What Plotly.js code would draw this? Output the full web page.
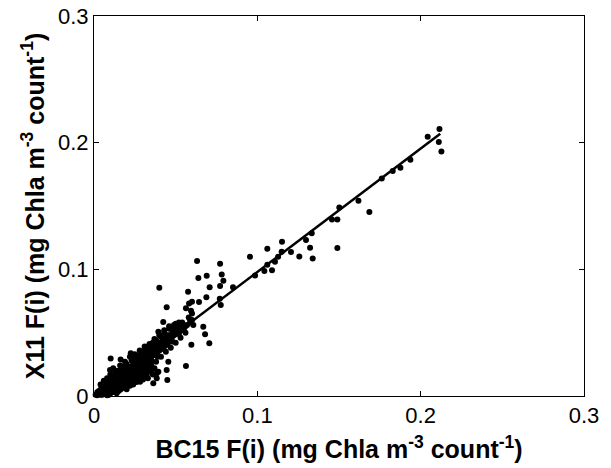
<!DOCTYPE html>
<html>
<head>
<meta charset="utf-8">
<script src="https://cdn.plot.ly/plotly-3.0.1.min.js"></script>
<style>
  html, body { margin: 0; padding: 0; background: #fff; }
  #chart { width: 611px; height: 468px; }
</style>
</head>
<body>
<div id="chart"></div>
<script>
// BC15 vs X11 per-count calibration factors F(i)
const bc15F = [
  // dense cluster near the origin
  0.001, 0.002, 0.002, 0.003, 0.003, 0.004, 0.004, 0.005, 0.005, 0.005,
  0.006, 0.006, 0.006, 0.007, 0.007, 0.007, 0.008, 0.008, 0.008, 0.009,
  0.009, 0.009, 0.010, 0.010, 0.010, 0.011, 0.011, 0.011, 0.012, 0.012,
  0.012, 0.013, 0.013, 0.013, 0.014, 0.014, 0.014, 0.015, 0.015, 0.015,
  0.016, 0.016, 0.016, 0.017, 0.017, 0.017, 0.018, 0.018, 0.018, 0.019,
  0.019, 0.019, 0.020, 0.020, 0.020, 0.021, 0.021, 0.021, 0.022, 0.022,
  0.022, 0.023, 0.023, 0.023, 0.024, 0.024, 0.024, 0.025, 0.025, 0.025,
  0.026, 0.026, 0.026, 0.027, 0.027, 0.027, 0.028, 0.028, 0.028, 0.029,
  0.029, 0.029, 0.030, 0.030, 0.030, 0.031, 0.031, 0.031, 0.032, 0.032,
  0.032, 0.033, 0.033, 0.033, 0.034, 0.034, 0.034, 0.035, 0.035, 0.035,
  0.036, 0.036, 0.036, 0.037, 0.037, 0.038, 0.038, 0.038, 0.039, 0.039,
  0.040, 0.040, 0.040, 0.041, 0.041, 0.042, 0.042, 0.042, 0.043, 0.043,
  0.044, 0.044, 0.045, 0.045, 0.046, 0.046, 0.047, 0.047, 0.048, 0.048,
  0.049, 0.049, 0.050, 0.050, 0.051, 0.051, 0.052, 0.052, 0.053, 0.053,
  0.054, 0.055, 0.055, 0.056, 0.057,
  // lower shoulder of the cluster
  0.025, 0.027, 0.029, 0.030, 0.032, 0.033, 0.035, 0.036, 0.037, 0.034,
  0.031, 0.028, 0.026, 0.024, 0.022, 0.020, 0.018, 0.016, 0.015, 0.013,
  0.011,
  0.008, 0.010, 0.014, 0.017, 0.019, 0.023, 0.026, 0.029, 0.032, 0.035,
  0.038, 0.041, 0.044, 0.047, 0.050, 0.053, 0.056,
  // upper shoulder of the cluster
  0.012, 0.015, 0.018, 0.020, 0.023, 0.026, 0.029, 0.031, 0.033, 0.036,
  0.038, 0.041, 0.043, 0.046, 0.049, 0.052, 0.054, 0.059, 0.060, 0.058,
  0.004, 0.006, 0.008, 0.010, 0.013, 0.016, 0.019, 0.022, 0.025, 0.028,
  0.031, 0.034, 0.037, 0.040, 0.043, 0.046, 0.050,
  // filling inside the cluster
  0.038, 0.042, 0.045, 0.048, 0.051, 0.044, 0.048, 0.052, 0.055, 0.039,
  0.035, 0.020, 0.017, 0.014, 0.024, 0.027,
  // scattered points around the cluster
  0.0394, 0.0225, 0.0102, 0.0163, 0.0449, 0.0394, 0.0384, 0.0343, 0.0363, 0.0282,
  0.0323, 0.0261, 0.0118, 0.0098, 0.0200, 0.0139, 0.0088,
  0.0631, 0.0772, 0.0639, 0.0690, 0.0782, 0.0792, 0.0708, 0.0772, 0.0851, 0.0400,
  0.0576, 0.0688, 0.0643, 0.0770, 0.0776, 0.0600, 0.0582, 0.0563, 0.0594, 0.0600,
  0.0445, 0.0424, 0.0669, 0.0680, 0.0706, 0.0596, 0.0608, 0.0563, 0.0455, 0.0445,
  0.0384, 0.0588,
  // higher values along the fit
  0.0955, 0.0986, 0.1043, 0.1090, 0.1061, 0.1108, 0.1061, 0.1127, 0.1149, 0.1151,
  0.1206, 0.1257, 0.1339, 0.1323, 0.1298, 0.1333, 0.1490, 0.1490, 0.1457, 0.1502,
  0.1686, 0.1619, 0.1762, 0.1829, 0.1876, 0.1937, 0.2127, 0.2111, 0.2043, 0.2115
];

const x11F = [
  0.001, 0.0005, 0.003, 0.002, 0.004, 0.001, 0.005, 0.003, 0.006, 0.001,
  0.004, 0.007, 0.002, 0.005, 0.008, 0.003, 0.006, 0.009, 0.002, 0.007,
  0.010, 0.004, 0.008, 0.011, 0.005, 0.009, 0.013, 0.006, 0.010, 0.014,
  0.004, 0.011, 0.008, 0.015, 0.012, 0.009, 0.016, 0.013, 0.010, 0.006,
  0.015, 0.012, 0.018, 0.014, 0.011, 0.008, 0.016, 0.013, 0.019, 0.017,
  0.014, 0.010, 0.018, 0.021, 0.015, 0.019, 0.016, 0.012, 0.020, 0.023,
  0.017, 0.021, 0.018, 0.014, 0.023, 0.020, 0.026, 0.024, 0.021, 0.016,
  0.025, 0.022, 0.028, 0.026, 0.023, 0.019, 0.027, 0.024, 0.030, 0.028,
  0.025, 0.021, 0.029, 0.026, 0.032, 0.030, 0.027, 0.023, 0.031, 0.028,
  0.034, 0.032, 0.029, 0.025, 0.033, 0.030, 0.036, 0.034, 0.031, 0.027,
  0.035, 0.032, 0.038, 0.036, 0.033, 0.037, 0.034, 0.040, 0.038, 0.035,
  0.039, 0.036, 0.042, 0.040, 0.037, 0.041, 0.038, 0.044, 0.042, 0.039,
  0.043, 0.046, 0.044, 0.041, 0.045, 0.048, 0.046, 0.043, 0.047, 0.050,
  0.048, 0.051, 0.049, 0.052, 0.050, 0.053, 0.051, 0.054, 0.052, 0.055,
  0.053, 0.054, 0.056, 0.055, 0.056,
  0.014, 0.012, 0.016, 0.013, 0.018, 0.014, 0.020, 0.017, 0.022, 0.022,
  0.020, 0.018, 0.011, 0.009, 0.008, 0.009, 0.007, 0.005, 0.004, 0.003,
  0.003,
  0.0005, 0.002, 0.004, 0.006, 0.008, 0.011, 0.014, 0.018, 0.021, 0.024,
  0.027, 0.031, 0.035, 0.038, 0.042, 0.046, 0.050,
  0.017, 0.020, 0.023, 0.025, 0.028, 0.031, 0.034, 0.036, 0.039, 0.042,
  0.044, 0.047, 0.050, 0.053, 0.056, 0.058, 0.058, 0.058, 0.060, 0.062,
  0.009, 0.012, 0.014, 0.017, 0.020, 0.024, 0.027, 0.031, 0.033, 0.036,
  0.039, 0.041, 0.045, 0.048, 0.052, 0.055, 0.057,
  0.041, 0.045, 0.048, 0.053, 0.055, 0.040, 0.043, 0.049, 0.052, 0.031,
  0.028, 0.024, 0.021, 0.018, 0.029, 0.032,
  0.0508, 0.0337, 0.0297, 0.0289, 0.0126, 0.0192, 0.0140, 0.0192, 0.0100, 0.0113,
  0.0152, 0.0152, 0.0219, 0.0205, 0.0053, 0.0021, 0.0008,
  0.1066, 0.1044, 0.0931, 0.0950, 0.0960, 0.0910, 0.0858, 0.0868, 0.0858, 0.0855,
  0.0823, 0.0779, 0.0742, 0.0768, 0.0718, 0.0744, 0.0731, 0.0692, 0.0673, 0.0652,
  0.0700, 0.0585, 0.0547, 0.0487, 0.0416, 0.0405, 0.0560, 0.0237, 0.0271, 0.0205,
  0.0179, 0.0600,
  0.1099, 0.0952, 0.0987, 0.0992, 0.1036, 0.1060, 0.1163, 0.1099, 0.1139, 0.1218,
  0.1137, 0.1102, 0.1086, 0.1171, 0.1231, 0.1284, 0.1168, 0.1394, 0.1394, 0.1489,
  0.1452, 0.1541, 0.1718, 0.1776, 0.1802, 0.1865, 0.1931, 0.2005, 0.2047, 0.2107
];

// least-squares fit line endpoints
const fitX = [0, 0.212];
const fitY = [0.0005, 0.207];

const tickVals = [0, 0.1, 0.2, 0.3];
const tickText = ['0', '0.1', '0.2', '0.3'];

const tickFont = { family: 'Liberation Sans, Arial, sans-serif', size: 22, color: '#000' };
const titleFont = { family: 'Liberation Sans, Arial, sans-serif', size: 25, color: '#000' };

const axisCommon = {
  range: [0, 0.3],
  tickvals: tickVals,
  ticktext: tickText,
  ticks: 'inside',
  ticklen: 5,
  tickwidth: 1,
  tickcolor: '#000',
  showline: true,
  linecolor: '#000',
  linewidth: 1,
  mirror: 'ticks',
  showgrid: false,
  zeroline: false,
  tickfont: tickFont,
  fixedrange: true
};

const data = [
  {
    type: 'scatter',
    mode: 'markers',
    x: bc15F,
    y: x11F,
    marker: { color: '#000', size: 6, line: { width: 0 } },
    cliponaxis: false,
    hoverinfo: 'skip'
  },
  {
    type: 'scatter',
    mode: 'lines',
    x: fitX,
    y: fitY,
    line: { color: '#000', width: 2.5 },
    hoverinfo: 'skip'
  }
];

const layout = {
  width: 611,
  height: 468,
  margin: { l: 94, r: 27, t: 16, b: 72 },
  paper_bgcolor: '#fff',
  plot_bgcolor: '#fff',
  showlegend: false,
  xaxis: Object.assign({}, axisCommon, {
    title: {
      text: '<b>BC15 F(i) (mg Chla m<sup>-3</sup> count<sup>-1</sup>)</b>',
      font: titleFont,
      standoff: 13
    }
  }),
  yaxis: Object.assign({}, axisCommon, {
    title: {
      text: '<b>X11 F(i) (mg Chla m<sup>-3</sup> count<sup>-1</sup>)</b>',
      font: titleFont,
      standoff: 6
    }
  })
};

Plotly.newPlot('chart', data, layout, { staticPlot: true, displayModeBar: false });
</script>
</body>
</html>
